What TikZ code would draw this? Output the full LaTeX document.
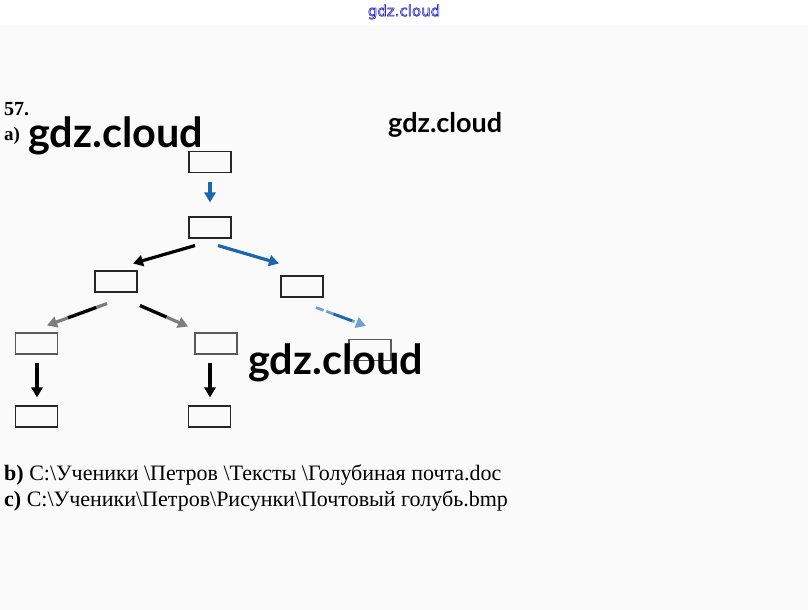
\documentclass[tikz,border=0pt]{standalone}
\usepackage{fontspec}
\setmainfont{Liberation Serif}
\newfontfamily\wmfont{Lato}
\newfontfamily\dvsfont{DejaVu Sans}
\usetikzlibrary{arrows.meta,calc}
\definecolor{ablue}{RGB}{26,103,176}
\definecolor{lblue}{RGB}{115,160,210}
\definecolor{tipgray}{RGB}{125,125,125}
\definecolor{hdrblue}{RGB}{35,35,200}
\begin{document}
\begin{tikzpicture}[x=1pt,y=-1pt,
  box/.style={draw=black!85,line width=1.1pt,minimum width=42pt,minimum height=21pt,inner sep=0pt},
  arr/.style={line width=3.2pt,-{Triangle[length=10pt,width=11pt]}},
  seg/.style={line width=3.2pt},
  lbl/.style={anchor=base west,inner sep=0pt},
  wmark/.style={anchor=base west,inner sep=0pt,text=black}]
\useasboundingbox (0,0) rectangle (808,610);
\fill[white] (0,0) rectangle (808,25);
\fill[black!2] (0,25) rectangle (808,610);

% header watermark
\node[inner sep=0pt,font=\dvsfont\fontsize{15}{15}\selectfont,text=hdrblue] (w0) at (404,12)
  {\special{pdf:literal direct 1 Tr 0.6 w}gdz.cloud\special{pdf:literal direct 0 Tr}};

% labels
\node[lbl,font=\bfseries\fontsize{20}{20}\selectfont] (n57) at (4,115) {57.};
\node[lbl,font=\bfseries\fontsize{19}{19}\selectfont] (na) at (4,140) {a)};

% boxes
\node[box] (b1) at (210,162) {};
\node[box] (b2) at (210,227.5) {};
\node[box] (b3) at (116,281.5) {};
\node[box] (b4) at (302,286.5) {};
\node[box,draw=black!65] (b5) at (36.5,343.5) {};
\node[box,draw=black!65] (b6) at (216,343.5) {};
\node[box,draw=black!65] (b7) at (370,350) {};
\node[box] (b8) at (36.5,416.5) {};
\node[box] (b9) at (209.5,416.5) {};

% arrows
\draw[arr,ablue] ($(b1.south)+(0,9)$) -- ($(b2.north)+(0,-14)$);
\draw[arr,black] ($(b2.south)+(-15,7)$) -- ($(b3.north)+(17,-7)$);
\draw[arr,ablue] ($(b2.south)+(8,7)$) -- ($(b4.north)+(-23,-12)$);

\coordinate (s35) at ($(b3.south)+(-9,11)$);
\coordinate (e35) at ($(b5.north)+(10.5,-7)$);
\draw[arr,tipgray] (s35) -- (e35);
\draw[seg,black] ($(s35)!0.18!(e35)$) -- ($(s35)!0.65!(e35)$);

\coordinate (s36) at ($(b3.south)+(24,13)$);
\coordinate (e36) at ($(b6.north)+(-28,-6)$);
\draw[arr,tipgray] (s36) -- (e36);
\draw[seg,black] (s36) -- ($(s36)!0.55!(e36)$);

\coordinate (s47) at ($(b4.south)+(14,10)$);
\coordinate (e47) at ($(b7.north)+(-4,-13)$);
\draw[arr,lblue,line width=2.8pt,dash pattern=on 8pt off 3pt] (s47) -- (e47);
\draw[line width=2.8pt,ablue] ($(s47)!0.35!(e47)$) -- ($(s47)!0.72!(e47)$);

\draw[arr,black] ($(b5.south)+(0.5,8)$) -- ($(b8.north)+(0.5,-8)$);
\draw[arr,black] ($(b6.south)+(-6,8)$) -- ($(b9.north)+(0.5,-8)$);

% path lines
\node[lbl,font=\fontsize{22}{22}\selectfont] (lb) at (4,480)
  {\textbf{b)} C:\textbackslash Ученики \textbackslash Петров \textbackslash Тексты \textbackslash Голубиная почта.doc};
\node[lbl,font=\fontsize{22}{22}\selectfont] (lc) at (4,506)
  {\textbf{c)} C:\textbackslash Ученики\textbackslash Петров\textbackslash Рисунки\textbackslash Почтовый голубь.bmp};

% watermarks
\node[wmark,font=\wmfont\bfseries\fontsize{41.4}{41.4}\selectfont] (w1) at (28,147) {gdz.cloud};
\node[wmark,font=\wmfont\bfseries\fontsize{27}{27}\selectfont] (w2) at (388,132) {gdz.cloud};
\node[wmark,font=\wmfont\bfseries\fontsize{41.4}{41.4}\selectfont] (w3) at (248,374) {gdz.cloud};
\end{tikzpicture}
\end{document}
